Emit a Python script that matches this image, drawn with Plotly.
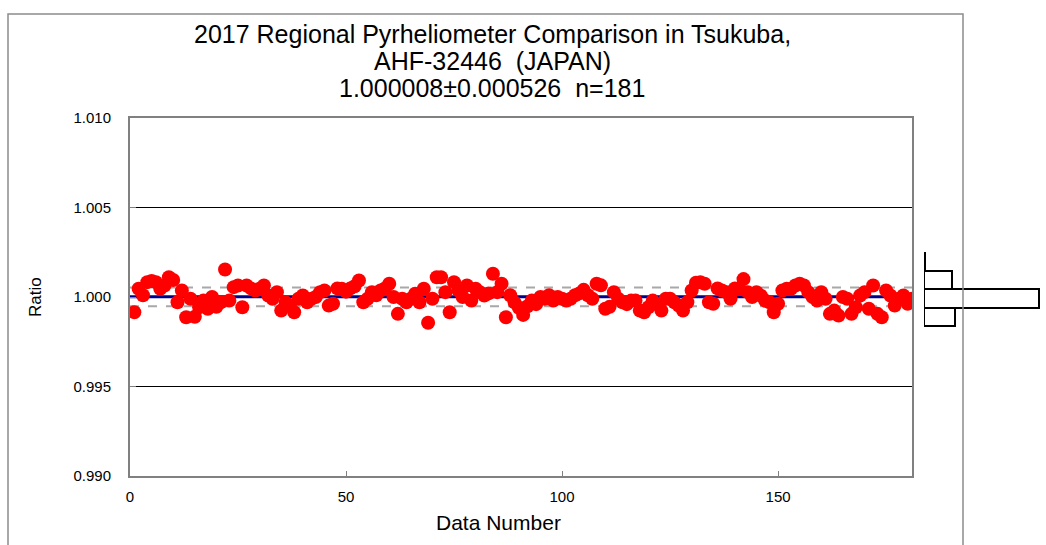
import numpy as np
import plotly.graph_objects as go

# ---- data ----
ratio = [
    0.99915, 1.00046, 1.00010, 1.00083, 1.00090, 1.00083, 1.00046, 1.00064, 1.00110, 1.00095,
    0.99971, 1.00036, 0.99887, 0.99990, 0.99890, 0.99943, 0.99980, 0.99934, 1.00000, 0.99945,
    0.99970, 1.00154, 0.99980, 1.00055, 1.00064, 0.99943, 1.00064, 1.00048, 1.00036, 1.00046,
    1.00064, 1.00008, 0.99990, 1.00027, 0.99924, 0.99970, 0.99952, 0.99915, 0.99990, 1.00008,
    0.99970, 0.99990, 1.00000, 1.00027, 1.00036, 0.99952, 0.99962, 1.00048, 1.00046, 1.00030,
    1.00048, 1.00060, 1.00092, 0.99971, 0.99990, 1.00027, 1.00010, 1.00036, 1.00048, 1.00074,
    1.00000, 0.99906, 0.99990, 0.99970, 0.99990, 1.00018, 0.99971, 1.00046, 0.99856, 0.99990,
    1.00110, 1.00110, 1.00027, 0.99915, 1.00083, 1.00036, 1.00000, 1.00064, 0.99980, 1.00046,
    1.00027, 1.00008, 1.00020, 1.00130, 1.00027, 1.00074, 0.99887, 1.00010, 0.99970, 0.99940,
    0.99900, 0.99948, 0.99980, 0.99960, 1.00000, 0.99990, 1.00010, 0.99980, 1.00000, 0.99990,
    0.99980, 0.99990, 1.00010, 1.00020, 1.00040, 1.00010, 0.99990, 1.00074, 1.00065, 0.99934,
    0.99945, 1.00027, 0.99990, 0.99970, 0.99960, 0.99980, 0.99980, 0.99924, 0.99915, 0.99943,
    0.99980, 0.99960, 0.99924, 0.99990, 0.99990, 0.99970, 0.99952, 0.99924, 0.99971, 1.00036,
    1.00080, 1.00083, 1.00074, 0.99971, 0.99962, 1.00048, 1.00036, 1.00027, 0.99990, 1.00048,
    1.00046, 1.00100, 1.00027, 1.00000, 1.00027, 1.00008, 0.99980, 0.99971, 0.99915, 0.99962,
    1.00036, 1.00046, 1.00046, 1.00064, 1.00074, 1.00064, 1.00027, 1.00000, 0.99980, 1.00027,
    0.99990, 0.99906, 0.99924, 0.99896, 1.00000, 0.99990, 0.99906, 0.99943, 1.00008, 1.00027,
    0.99934, 1.00064, 0.99906, 0.99887, 1.00036, 1.00008, 0.99952, 0.99990, 1.00008, 0.99962,
    0.99990,
]
data_number = list(range(1, len(ratio) + 1))

MEAN = 1.000008
SD = 0.000526

x_ticks = [0, 50, 100, 150]
y_ticks = [0.990, 0.995, 1.000, 1.005, 1.010]
hist_edges = [0.9985, 0.9995, 1.0005, 1.0015, 1.0025]

title_lines = [
    "2017 Regional Pyrheliometer Comparison in Tsukuba,",
    "AHF-32446  (JAPAN)",
    "1.000008\u00b10.000526  n=181",
]

counts, edges = np.histogram(ratio, bins=hist_edges)
centers = [(edges[i] + edges[i + 1]) / 2 for i in range(len(counts))]

# ---- layout geometry (pixels) ----
W, H = 1046, 545
ML, MR, MT, MB = 130, 0, 118, 69
PW = W - ML - MR
PH = H - MT - MB

def px(x):
    return (x - ML) / PW

def py(y):
    return (H - MB - y) / PH

FONT = "Liberation Sans, Arial, sans-serif"
X_END = len(ratio)

fig = go.Figure()

# +/- 1 sigma dashed lines
for yv in (MEAN + SD, MEAN - SD):
    fig.add_trace(go.Scatter(
        x=[0, X_END], y=[yv, yv], mode="lines",
        line=dict(color="#A8A8A8", width=2, dash="dash"),
        xaxis="x", yaxis="y", showlegend=False, hoverinfo="skip",
    ))
# mean line
fig.add_trace(go.Scatter(
    x=[0, X_END], y=[MEAN, MEAN], mode="lines",
    line=dict(color="#00008B", width=3),
    xaxis="x", yaxis="y", showlegend=False, hoverinfo="skip",
))

fig.add_trace(go.Scatter(
    x=data_number, y=ratio, mode="markers",
    marker=dict(color="#FF0000", size=14, line=dict(width=0)),
    xaxis="x", yaxis="y", showlegend=False, hoverinfo="x+y",
))

fig.add_trace(go.Bar(
    x=counts.tolist(), y=centers, orientation="h", width=0.001,
    marker=dict(color="white", line=dict(color="black", width=2)),
    xaxis="x2", yaxis="y2", showlegend=False,
))

shapes = [
    dict(type="rect", xref="paper", yref="paper",
         x0=px(8), x1=px(963), y0=py(600), y1=py(14),
         line=dict(color="#8C8C8C", width=1.5), fillcolor="rgba(0,0,0,0)", layer="above"),
]

annotations = []
for txt, yc in zip(title_lines, [34, 61.5, 88.5]):
    annotations.append(dict(
        text=txt, xref="paper", yref="paper", x=px(492), y=py(yc),
        xanchor="center", yanchor="middle", showarrow=False,
        font=dict(family=FONT, size=25, color="black"),
    ))
annotations.append(dict(
    text="Ratio", xref="paper", yref="paper", x=px(35), y=py(297),
    xanchor="center", yanchor="middle", showarrow=False, textangle=-90,
    font=dict(family=FONT, size=17, color="black"),
))
annotations.append(dict(
    text="Data Number", xref="paper", yref="paper", x=px(498), y=py(522),
    xanchor="center", yanchor="middle", showarrow=False,
    font=dict(family=FONT, size=21, color="black"),
))

fig.update_layout(
    width=W, height=H,
    margin=dict(l=ML, r=MR, t=MT, b=MB),
    paper_bgcolor="white", plot_bgcolor="white",
    font=dict(family=FONT, color="black"),
    bargap=0,
    xaxis=dict(
        domain=[0, px(912)], range=[0, 181],
        tickvals=x_ticks, ticks="inside", ticklen=5, tickcolor="#808080", tickwidth=1,
        showgrid=False, zeroline=False,
        showline=True, linecolor="#808080", linewidth=2, mirror=True,
        tickfont=dict(family=FONT, size=15, color="black"),
        ticklabelstandoff=6,
    ),
    yaxis=dict(
        domain=[0, 1], range=[0.990, 1.010],
        tickvals=y_ticks, tickformat=".3f", ticks="inside", ticklen=6, tickcolor="#808080",
        showgrid=True, gridcolor="#000000", gridwidth=1, zeroline=False,
        showline=True, linecolor="#808080", linewidth=2, mirror=True,
        tickfont=dict(family=FONT, size=15, color="black"),
        ticklabelstandoff=14,
    ),
    xaxis2=dict(
        domain=[px(924), 1.0], range=[0, 126], anchor="y2",
        visible=False, showgrid=False, zeroline=False,
    ),
    yaxis2=dict(
        domain=[0, 1], range=[0.99030, 1.00986], anchor="x2",
        visible=False, showgrid=False, zeroline=False,
    ),
    shapes=shapes,
    annotations=annotations,
)

fig.write_html("out.html")
